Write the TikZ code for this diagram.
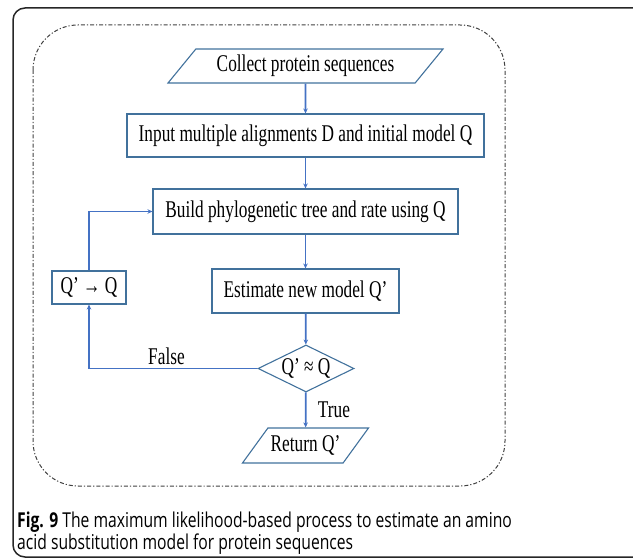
\documentclass[tikz,border=0pt]{standalone}
\usepackage{fontspec}
\setmainfont{Liberation Serif}[FakeStretch=0.72]
\newfontfamily\legende{Open Sans}[FakeStretch=0.765]
\usetikzlibrary{shapes.geometric,arrows.meta}
\definecolor{bleufleche}{HTML}{4472C4}
\definecolor{bleubord}{HTML}{41719C}

\begin{document}
\begin{tikzpicture}[x=1pt,y=-1pt]
\tikzstyle{boite} = [draw=bleubord,line width=1.1pt,rectangle,inner sep=0pt,font=\fontsize{24}{26}\selectfont];
\tikzstyle{entree} = [boite,trapezium,trapezium left angle=38,trapezium right angle=142,trapezium stretches body];
\tikzstyle{test} = [boite,diamond,aspect=2];
\tikzstyle{fleche} = [->,>={Stealth[length=5pt,width=4.5pt]},bleufleche,line width=1.8pt];
\tikzstyle{etiquette} = [black,font=\fontsize{24}{26}\selectfont];

\useasboundingbox (0,0) rectangle (633,559);
\clip (0,0) rectangle (633,559);

% cadres
\draw[black!85,line width=1.5pt,rounded corners=12] (13,8) rectangle (660,557);
\draw[black!75,line width=1pt,dash pattern=on 4pt off 2pt on 1.2pt off 2pt,rounded corners=45] (33,25) rectangle (505,486);

% etapes
\node[entree,minimum width=275,minimum height=34] (collect) at (305.5,66) {Collect protein sequences};
\node[boite,minimum width=357,minimum height=43] (input) at (305.5,135.5) {Input multiple alignments D and initial model Q};
\node[boite,minimum width=305,minimum height=45] (build) at (305.5,211.5) {Build phylogenetic tree and rate using Q};
\node[boite,minimum width=187,minimum height=44] (estimate) at (305.5,291) {Estimate new model Q’};
\node[boite,minimum width=74,minimum height=33] (update) at (89,287.5) {Q’ → Q};
\node[test,minimum width=96,minimum height=47] (compare) at (306,368.5) {Q’ ≈ Q};
\node[entree,minimum width=126,minimum height=35] (return) at (305.5,445.5) {Return Q’};

\draw[fleche] (collect) -- (input);
\draw[fleche] (input) -- (build);
\draw[fleche] (build) -- (estimate);
\draw[fleche] (estimate) -- (compare);
\draw[fleche] (compare) -- node[etiquette,right,xshift=8pt] {True} (return);
\draw[fleche] (compare.west) -| node[etiquette,above,pos=0.27] {False} (update.south);
\draw[fleche] (update.north) |- (build.west);

% legende
\node[anchor=base west,inner sep=0pt,font=\legende\fontsize{20.5}{22}\selectfont] (leg1) at (17,527) {\textbf{Fig. 9} The maximum likelihood-based process to estimate an amino};
\node[anchor=base west,inner sep=0pt,font=\legende\fontsize{20.5}{22}\selectfont] (leg2) at (17,549) {acid substitution model for protein sequences};

\end{tikzpicture}
\end{document}
